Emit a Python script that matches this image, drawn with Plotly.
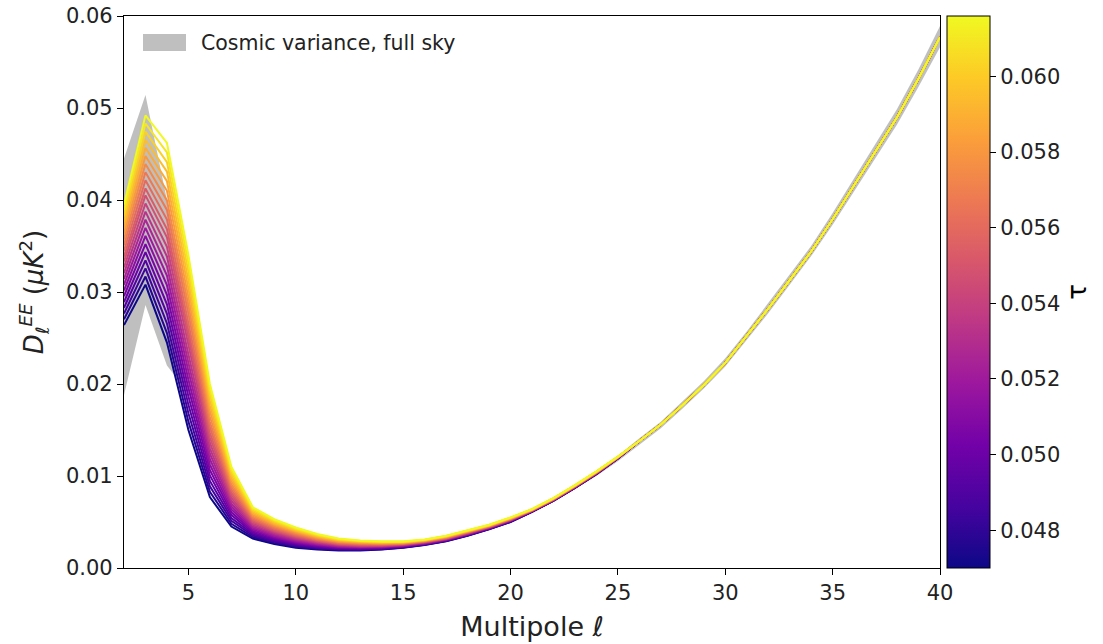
import plotly.graph_objects as go
from plotly.colors import sample_colorscale

# ---------------- data ----------------
ell = list(range(2, 41))

# D_ell^EE for the lowest tau (darkest line)
D_tau_low = [0.0264, 0.0308, 0.0245, 0.0150, 0.0077, 0.0045, 0.0032, 0.0026, 0.0022,
             0.0020, 0.0019, 0.0019, 0.0020, 0.0022, 0.0025, 0.0029, 0.0035, 0.0042,
             0.0050, 0.0061, 0.0073, 0.0087, 0.0102, 0.0119, 0.0138, 0.0156, 0.0177,
             0.0199, 0.0223, 0.0252, 0.0282, 0.0313, 0.0344, 0.0379, 0.0416, 0.0453,
             0.0490, 0.0532, 0.0577]

# D_ell^EE for the highest tau (yellow line)
D_tau_high = [0.0395, 0.0492, 0.0462, 0.0340, 0.0200, 0.0110, 0.0066, 0.0053, 0.0044,
              0.0037, 0.0032, 0.0030, 0.0029, 0.0029, 0.0031, 0.0035, 0.0041, 0.0047,
              0.0055, 0.0064, 0.0076, 0.0090, 0.0105, 0.0121, 0.0138, 0.0156, 0.0177,
              0.0199, 0.0223, 0.0252, 0.0282, 0.0313, 0.0344, 0.0379, 0.0416, 0.0453,
              0.0490, 0.0532, 0.0577]

# cosmic-variance band (full sky) around the fiducial spectrum
cv_lower = [0.0188, 0.0286, 0.0220, 0.0190, 0.0110, 0.0063, 0.0040, 0.0033, 0.0028,
            0.0025, 0.0023, 0.0022, 0.0022, 0.0023, 0.0026, 0.0030, 0.0036, 0.0043,
            0.0051, 0.0060, 0.0072, 0.0086, 0.0100, 0.0116, 0.0134, 0.0152, 0.0173,
            0.0195, 0.0219, 0.0248, 0.0277, 0.0308, 0.0339, 0.0373, 0.0409, 0.0446,
            0.0482, 0.0523, 0.0566]
cv_upper = [0.0445, 0.0514, 0.0400, 0.0290, 0.0160, 0.0087, 0.0054, 0.0041, 0.0035,
            0.0031, 0.0028, 0.0027, 0.0026, 0.0027, 0.0029, 0.0033, 0.0039, 0.0046,
            0.0055, 0.0064, 0.0076, 0.0090, 0.0106, 0.0122, 0.0141, 0.0159, 0.0181,
            0.0203, 0.0228, 0.0257, 0.0288, 0.0319, 0.0350, 0.0386, 0.0424, 0.0461,
            0.0499, 0.0542, 0.0589]

# optical depth values of the plotted curves
tau_values = [0.0470, 0.0477, 0.0484, 0.0491, 0.0498, 0.0505, 0.0512, 0.0519, 0.0526,
              0.0533, 0.0540, 0.0547, 0.0553, 0.0560, 0.0567, 0.0574, 0.0581, 0.0588,
              0.0595, 0.0602, 0.0609, 0.0616]

cbar_ticks = [0.048, 0.050, 0.052, 0.054, 0.056, 0.058, 0.060]
x_ticks = [5, 10, 15, 20, 25, 30, 35, 40]
y_ticks = [0.00, 0.01, 0.02, 0.03, 0.04, 0.05, 0.06]
legend_label = "Cosmic variance, full sky"

# ---------------- figure ----------------
tmin, tmax = min(tau_values), max(tau_values)
FONT = "DejaVu Sans"
TXT = "#222"
W, H = 1103, 644
L, R, T, B = 124, 163, 16, 76
PW, PH = W - L - R, H - T - B

fig = go.Figure()

# cosmic variance band
fig.add_trace(go.Scatter(x=ell, y=cv_lower, mode="lines", line=dict(width=0),
                         showlegend=False, hoverinfo="skip"))
fig.add_trace(go.Scatter(x=ell, y=cv_upper, mode="lines", line=dict(width=0),
                         fill="tonexty", fillcolor="rgba(128,128,128,0.5)",
                         showlegend=False, name=legend_label))

# family of curves colored by tau
for tau in tau_values:
    w = (tau - tmin) / (tmax - tmin)
    col = sample_colorscale("Plasma", [w])[0]
    y = [lo + (hi - lo) * w for lo, hi in zip(D_tau_low, D_tau_high)]
    fig.add_trace(go.Scatter(x=ell, y=y, mode="lines",
                             line=dict(color=col, width=2),
                             showlegend=False))

# colorbar carrier
fig.add_trace(go.Scatter(
    x=[None, None], y=[None, None], mode="markers", showlegend=False,
    marker=dict(color=[tmin, tmax], cmin=tmin, cmax=tmax, colorscale="Plasma",
                showscale=True,
                colorbar=dict(
                    title=dict(text="τ", side="right",
                               font=dict(size=26, family=FONT, color="black")),
                    x=(947 - L) / PW, xanchor="left", xref="paper",
                    y=0, yanchor="bottom", len=1.0, lenmode="fraction",
                    thickness=43, thicknessmode="pixels",
                    outlinecolor="black", outlinewidth=1,
                    tickvals=cbar_ticks, tickformat=".3f",
                    ticks="outside", ticklen=6, tickcolor="black",
                    tickfont=dict(size=21, family=FONT, color=TXT),
                    xpad=0, ypad=0))))

# legend drawn as a patch + text (matplotlib-style filled patch)
px0, px1, py0, py1 = 143, 186, 34, 51
fig.add_shape(type="rect", xref="paper", yref="paper",
              x0=(px0 - L) / PW, x1=(px1 - L) / PW,
              y0=1 - (py1 - T) / PH, y1=1 - (py0 - T) / PH,
              fillcolor="rgba(128,128,128,0.5)", line=dict(width=0))
fig.add_annotation(xref="paper", yref="paper", x=(199 - L) / PW, y=1 - (43 - T) / PH,
                   xanchor="left", yanchor="middle", showarrow=False,
                   text=legend_label, font=dict(size=20.5, family=FONT, color=TXT))

fig.update_layout(
    width=W, height=H,
    margin=dict(l=L, r=R, t=T, b=B, autoexpand=False),
    paper_bgcolor="white", plot_bgcolor="white",
    font=dict(family=FONT, size=21, color=TXT),
    showlegend=False,
)
fig.update_xaxes(range=[2, 40], tickvals=x_ticks, ticks="outside", ticklen=6,
                 tickcolor="black", showline=True, linecolor="black", linewidth=1.2,
                 mirror=True, showgrid=False, zeroline=False,
                 tickfont=dict(size=21),
                 title=dict(text="Multipole <i>ℓ</i>", font=dict(size=27), standoff=12))
fig.update_yaxes(range=[0, 0.06], tickvals=y_ticks, tickformat=".2f", ticks="outside",
                 ticklen=6, tickcolor="black", showline=True, linecolor="black",
                 linewidth=1.2, mirror=True, showgrid=False, zeroline=False,
                 tickfont=dict(size=21),
                 title=dict(text="<i>D</i><sub><i>ℓ</i></sub><sup><i>EE</i></sup> (<i>μK</i><sup>2</sup>)",
                            font=dict(size=26), standoff=14))

fig.write_html("out.html")
